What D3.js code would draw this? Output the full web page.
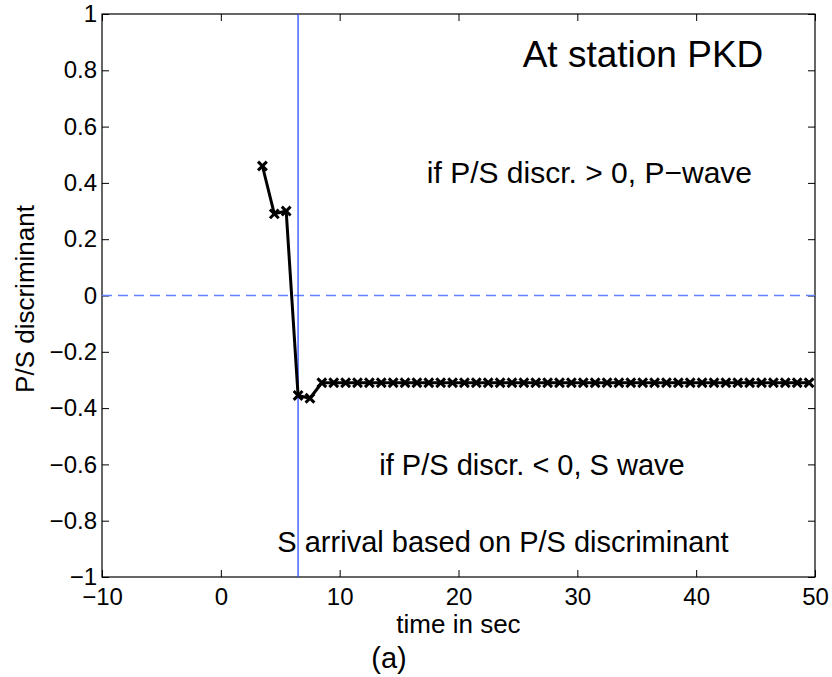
<!DOCTYPE html>
<html>
<head>
<meta charset="utf-8">
<script src="https://cdn.jsdelivr.net/npm/d3@7"></script>
<style>
  body { margin: 0; background: #fff; }
  svg { display: block; font-family: "Liberation Sans", Arial, Helvetica, sans-serif; }
</style>
</head>
<body>
<div id="wrapper"></div>
<script>
// data
const timeSec = [3.5, 4.5, 5.5, 6.5, 7.5, 8.5, 9.5, 10.5, 11.5, 12.5, 13.5, 14.5, 15.5, 16.5,
  17.5, 18.5, 19.5, 20.5, 21.5, 22.5, 23.5, 24.5, 25.5, 26.5, 27.5, 28.5, 29.5, 30.5, 31.5,
  32.5, 33.5, 34.5, 35.5, 36.5, 37.5, 38.5, 39.5, 40.5, 41.5, 42.5, 43.5, 44.5, 45.5, 46.5,
  47.5, 48.5, 49.5];
const discriminant = [0.46, 0.29, 0.30, -0.355, -0.365, -0.31, -0.31, -0.31, -0.31, -0.31,
  -0.31, -0.31, -0.31, -0.31, -0.31, -0.31, -0.31, -0.31, -0.31, -0.31, -0.31, -0.31, -0.31,
  -0.31, -0.31, -0.31, -0.31, -0.31, -0.31, -0.31, -0.31, -0.31, -0.31, -0.31, -0.31, -0.31,
  -0.31, -0.31, -0.31, -0.31, -0.31, -0.31, -0.31, -0.31, -0.31, -0.31, -0.31];
const xTicks = [-10, 0, 10, 20, 30, 40, 50];
const yTicks = [-1, -0.8, -0.6, -0.4, -0.2, 0, 0.2, 0.4, 0.6, 0.8, 1];
const sArrival = 6.5;

const dims = {
  width: 832,
  height: 677,
  margin: { top: 14, right: 17, bottom: 100, left: 102 },
};
dims.innerWidth = dims.width - dims.margin.left - dims.margin.right;
dims.innerHeight = dims.height - dims.margin.top - dims.margin.bottom;

const svg = d3.select('#wrapper').append('svg')
  .attr('width', dims.width)
  .attr('height', dims.height);

const bounds = svg.append('g')
  .attr('transform', `translate(${dims.margin.left},${dims.margin.top})`);

const xScale = d3.scaleLinear().domain([-10, 50]).range([0, dims.innerWidth]);
const yScale = d3.scaleLinear().domain([-1, 1]).range([dims.innerHeight, 0]);

const fmt = d3.format('.1~f');

// axes, ticks inward on all four sides
const xAxis = bounds.append('g')
  .attr('transform', `translate(0,${dims.innerHeight})`)
  .call(d3.axisBottom(xScale).tickValues(xTicks).tickFormat(fmt)
    .tickSizeInner(-7).tickSizeOuter(0).tickPadding(11));
const xTop = bounds.append('g')
  .call(d3.axisTop(xScale).tickValues(xTicks).tickFormat('')
    .tickSizeInner(-7).tickSizeOuter(0));
const yAxis = bounds.append('g')
  .call(d3.axisLeft(yScale).tickValues(yTicks).tickFormat(fmt)
    .tickSizeInner(-7).tickSizeOuter(0).tickPadding(5));
const yRight = bounds.append('g')
  .attr('transform', `translate(${dims.innerWidth},0)`)
  .call(d3.axisRight(yScale).tickValues(yTicks).tickFormat('')
    .tickSizeInner(-7).tickSizeOuter(0));

[xAxis, xTop, yAxis, yRight].forEach((a) => {
  a.select('.domain').remove();
  a.selectAll('line').attr('stroke', '#000');
  a.selectAll('text').attr('fill', '#000').style('font-size', '24px');
});

bounds.append('rect')
  .attr('width', dims.innerWidth)
  .attr('height', dims.innerHeight)
  .attr('fill', 'none')
  .attr('stroke', '#000')
  .attr('stroke-width', 1.2);

// reference lines
bounds.append('line')
  .attr('x1', 0).attr('x2', dims.innerWidth)
  .attr('y1', yScale(0)).attr('y2', yScale(0))
  .attr('stroke', '#5f80ff')
  .attr('stroke-width', 1.6)
  .attr('stroke-dasharray', '10 6');

bounds.append('line')
  .attr('x1', xScale(sArrival)).attr('x2', xScale(sArrival))
  .attr('y1', 0).attr('y2', dims.innerHeight)
  .attr('stroke', '#2a4dff')
  .attr('stroke-width', 1.3);

// series
const points = timeSec.map((t, i) => [t, discriminant[i]]);

bounds.append('path')
  .datum(points)
  .attr('fill', 'none')
  .attr('stroke', '#000')
  .attr('stroke-width', 3)
  .attr('stroke-linejoin', 'round')
  .attr('d', d3.line().x((d) => xScale(d[0])).y((d) => yScale(d[1])));

bounds.selectAll('.marker')
  .data(points)
  .join('path')
  .attr('class', 'marker')
  .attr('transform', (d) => `translate(${xScale(d[0])},${yScale(d[1])})`)
  .attr('d', d3.symbol(d3.symbolX, 52))
  .attr('fill', 'none')
  .attr('stroke', '#000')
  .attr('stroke-width', 3);

// labels
svg.append('text')
  .attr('x', dims.margin.left + dims.innerWidth / 2)
  .attr('y', 633)
  .attr('text-anchor', 'middle')
  .style('font-size', '26px')
  .text('time in sec');

svg.append('text')
  .attr('transform', 'translate(34,299) rotate(-90)')
  .attr('text-anchor', 'middle')
  .style('font-size', '26px')
  .text('P/S discriminant');

svg.append('text')
  .attr('x', 389)
  .attr('y', 668)
  .attr('text-anchor', 'middle')
  .style('font-size', '29px')
  .text('(a)');

// annotations
svg.append('text')
  .attr('x', 643).attr('y', 67)
  .attr('text-anchor', 'middle')
  .style('font-size', '37px')
  .text('At station PKD');

svg.append('text')
  .attr('x', 752).attr('y', 183)
  .attr('text-anchor', 'end')
  .style('font-size', '30px')
  .text('if P/S discr. > 0, P\u2212wave');

svg.append('text')
  .attr('x', 532).attr('y', 475)
  .attr('text-anchor', 'middle')
  .style('font-size', '29px')
  .text('if P/S discr. < 0, S wave');

svg.append('text')
  .attr('x', 503).attr('y', 552)
  .attr('text-anchor', 'middle')
  .style('font-size', '29px')
  .text('S arrival based on P/S discriminant');
</script>
</body>
</html>
